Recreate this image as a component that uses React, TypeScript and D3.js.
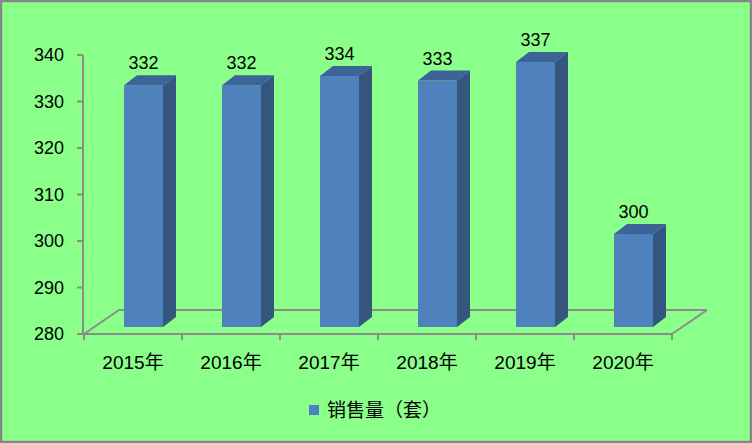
import React from "react";
import * as d3 from "d3";

const categories = ["2015年", "2016年", "2017年", "2018年", "2019年", "2020年"];
const values = [332, 332, 334, 333, 337, 300];
const yTicks = [280, 290, 300, 310, 320, 330, 340];
const seriesName = "销售量（套）";

const W = 752;
const H = 443;
const FONT = "'Liberation Sans', 'Noto Sans CJK SC', sans-serif";

export default function App() {
  const x = d3.scaleBand<string>().domain(categories).range([84, 672]);
  const y = d3.scaleLinear().domain([280, 340]).range([334, 55]);
  const floorD = { dx: 35, dy: -24 };
  const f1 = { dx: 10.5, dy: -7 };
  const f2 = { dx: 23.5, dy: -17 };
  const barW = 39;
  const base = y(280);

  const bars = categories.map((c, i) => {
    const cx = (x(c) as number) + x.bandwidth() / 2 + f1.dx;
    const x0 = cx - barW / 2;
    const x1 = cx + barW / 2;
    const yTop = y(values[i]) + f1.dy;
    const yBot = base + f1.dy;
    const ddx = f2.dx - f1.dx;
    const ddy = f2.dy - f1.dy;
    const top = `M${x0},${yTop}L${x1},${yTop}L${x1 + ddx},${yTop + ddy}L${x0 + ddx},${yTop + ddy}Z`;
    const side = `M${x1},${yTop}L${x1 + ddx},${yTop + ddy}L${x1 + ddx},${yBot + ddy}L${x1},${yBot}Z`;
    return { c, v: values[i], cx, x0, yTop, yBot, top, side, labelY: yTop + ddy - 6 };
  });

  const boundaries = d3.range(categories.length + 1).map((i) => 84 + i * x.step());

  return (
    <div style={{ position: "fixed", left: 0, top: 0, width: W, height: H }}>
      <svg width={W} height={H} style={{ display: "block" }} fontFamily={FONT}>
        <rect x={1} y={1} width={W - 2} height={H - 2} fill="#8AFF8A" stroke="#868686" strokeWidth={2.5} />
        <g stroke="#8C8C8C" strokeWidth={2} fill="none">
          <line x1={84} y1={base} x2={672} y2={base} />
          <line x1={84} y1={base} x2={84 + floorD.dx} y2={base + floorD.dy} />
          <line x1={84 + floorD.dx} y1={base + floorD.dy} x2={672 + floorD.dx} y2={base + floorD.dy} />
          <line x1={672} y1={base} x2={672 + floorD.dx} y2={base + floorD.dy} />
          <line x1={83} y1={y(340)} x2={83} y2={base} />
          {yTicks.map((t) => (
            <line key={t} x1={77} y1={y(t)} x2={83} y2={y(t)} />
          ))}
          {boundaries.map((b, i) => (
            <line key={i} x1={b} y1={base} x2={b} y2={base + 6} />
          ))}
        </g>
        {yTicks.map((t) => (
          <text key={t} x={64} y={y(t)} dy="0.36em" textAnchor="end" fontSize={18} fill="#000">
            {t}
          </text>
        ))}
        {bars.map((b) => (
          <g key={b.c}>
            <rect x={b.x0} y={b.yTop} width={barW} height={b.yBot - b.yTop} fill="#4F81BD" />
            <path d={b.top} fill="#3C6496" />
            <path d={b.side} fill="#34567F" />
            <text x={b.cx} y={b.labelY} textAnchor="middle" fontSize={18} fill="#000">
              {b.v}
            </text>
          </g>
        ))}
        {categories.map((c) => (
          <text key={c} x={(x(c) as number) + x.bandwidth() / 2} y={369} textAnchor="middle" fontSize={19} fill="#000">
            {c}
          </text>
        ))}
        <rect x={309} y={405} width={10} height={10} fill="#4F81BD" />
        <text x={327} y={417} fontSize={19} fill="#000">
          {seriesName}
        </text>
      </svg>
    </div>
  );
}
